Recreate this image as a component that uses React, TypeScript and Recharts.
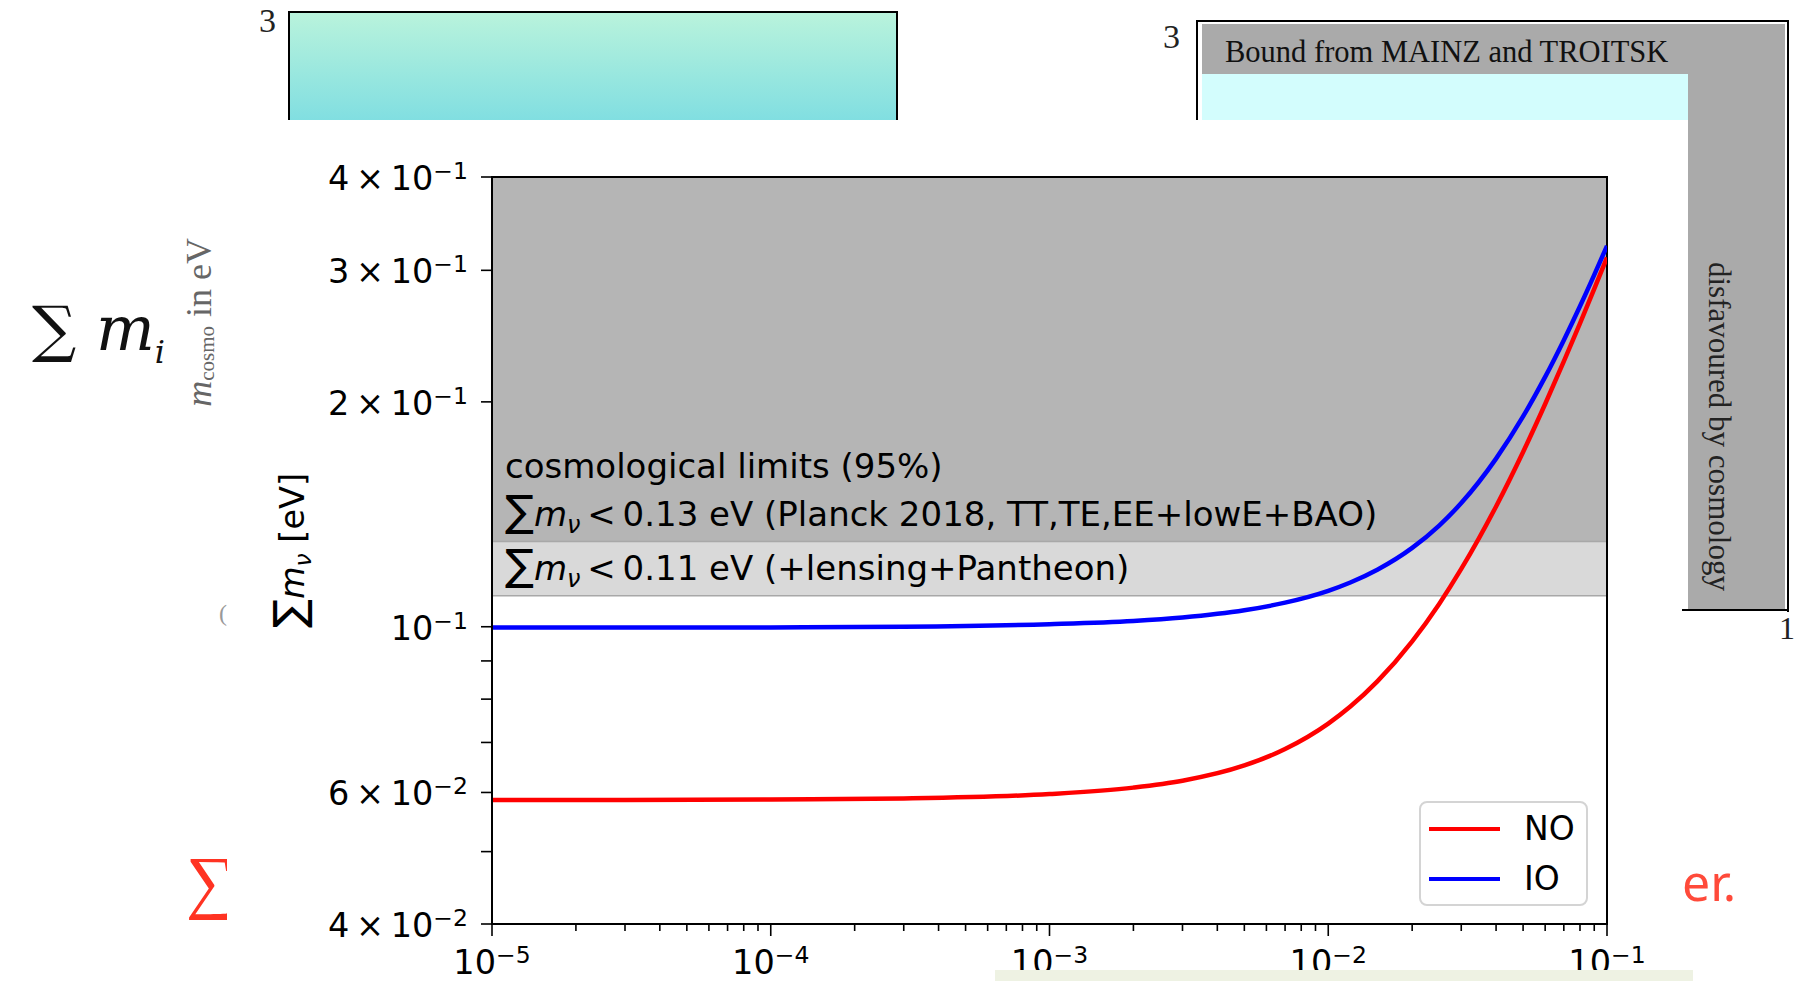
import React from 'react';
import { LineChart, Line, XAxis, YAxis, ReferenceArea, Legend } from 'recharts';

// lightest neutrino mass m_0 [eV]
const lightestMass = [1e-5, 3e-5, 1e-4, 3e-4, 1e-3, 2e-3, 3e-3, 5e-3, 7e-3, 1e-2, 1.2e-2, 1.5e-2, 2e-2, 2.5e-2, 3e-2, 4e-2, 5e-2, 6e-2, 7e-2, 8e-2, 9e-2, 1e-1];
// sum of neutrino masses [eV], normal ordering
const sumNormal = [0.0586, 0.0586, 0.0587, 0.0589, 0.0597, 0.0609, 0.0622, 0.0652, 0.0686, 0.0742, 0.0782, 0.0845, 0.0956, 0.1073, 0.1195, 0.1449, 0.1714, 0.1987, 0.2266, 0.2548, 0.2834, 0.3122];
// sum of neutrino masses [eV], inverted ordering
const sumInverted = [0.0998, 0.0998, 0.0998, 0.1000, 0.1008, 0.1018, 0.1029, 0.1052, 0.1077, 0.1117, 0.1146, 0.1192, 0.1275, 0.1366, 0.1464, 0.1679, 0.1912, 0.2160, 0.2419, 0.2685, 0.2958, 0.3235];

// cosmological upper limits [eV]
const planckLimit = 0.13;
const lensingLimit = 0.11;

const xDomain = [1e-5, 1e-1];
const yDomain = [0.04, 0.4];

const xMajorTicks = [1e-5, 1e-4, 1e-3, 1e-2, 1e-1];
const xMajorLabels = ['10^−5', '10^−4', '10^−3', '10^−2', '10^−1'];
const xMinorTicks = [
  2e-5, 3e-5, 4e-5, 5e-5, 6e-5, 7e-5, 8e-5, 9e-5,
  2e-4, 3e-4, 4e-4, 5e-4, 6e-4, 7e-4, 8e-4, 9e-4,
  2e-3, 3e-3, 4e-3, 5e-3, 6e-3, 7e-3, 8e-3, 9e-3,
  2e-2, 3e-2, 4e-2, 5e-2, 6e-2, 7e-2, 8e-2, 9e-2,
];

const yTicks = [0.04, 0.05, 0.06, 0.07, 0.08, 0.09, 0.1, 0.2, 0.3, 0.4];
const yTickLabels = ['4\u2009×\u200910^−2', '', '6\u2009×\u200910^−2', '', '', '', '10^−1', '2\u2009×\u200910^−1', '3\u2009×\u200910^−1', '4\u2009×\u200910^−1'];

const seriesNames = ['NO', 'IO'];
const seriesColors = ['#ff0000', '#0000ff'];

const FONT = 'DejaVu Sans';

const chartData = lightestMass.map((m, i) => ({ m, no: sumNormal[i], io: sumInverted[i] }));

function PowerLabel({ x, y, text, anchor }: { x: number; y: number; text: string; anchor: 'end' | 'middle' }) {
  const [base, exp] = text.split('^');
  return (
    <text x={x} y={y} textAnchor={anchor} fontFamily={FONT} fontSize={33.5} fill="#000">
      {base}
      <tspan dy={-11} fontSize={23.5}>{exp}</tspan>
    </text>
  );
}

function XTick({ x, y, payload }: any) {
  const idx = xMajorTicks.indexOf(payload.value);
  const major = idx >= 0;
  return (
    <g>
      <line x1={x} x2={x} y1={y} y2={y + (major ? 12 : 7)} stroke="#000" strokeWidth={1.6} />
      {major && <PowerLabel x={x} y={y + 50} text={xMajorLabels[idx]} anchor="middle" />}
    </g>
  );
}

function YTick({ x, y, payload }: any) {
  const label = yTickLabels[yTicks.indexOf(payload.value)] || '';
  return (
    <g>
      <line x1={x - 11} x2={x} y1={y} y2={y} stroke="#000" strokeWidth={1.6} />
      {label && <PowerLabel x={x - 24} y={y + 13} text={label} anchor="end" />}
    </g>
  );
}

function YTitle({ viewBox }: any) {
  const cx = viewBox.x + viewBox.width - 200;
  const cy = viewBox.y + viewBox.height / 2;
  return (
    <text
      x={cx}
      y={cy + 12}
      transform={`rotate(-90 ${cx} ${cy})`}
      textAnchor="middle"
      fontFamily={FONT}
      fontSize={33.5}
      fill="#000"
    >
      <tspan fontSize={43}>∑</tspan>
      <tspan fontStyle="italic">m</tspan>
      <tspan fontStyle="italic" fontSize={23.5} dy={7}>ν</tspan>
      <tspan dy={-7}> [eV]</tspan>
    </text>
  );
}

function SumLine({ x, y, bound, note }: { x: number; y: number; bound: number; note: string }) {
  return (
    <text x={x} y={y} fontFamily={FONT} fontSize={34} fill="#000">
      <tspan fontSize={43}>∑</tspan>
      <tspan fontStyle="italic">m</tspan>
      <tspan fontStyle="italic" fontSize={24} dy={7}>ν</tspan>
      <tspan dy={-7}>{`\u2009<\u2009${bound} eV ${note}`}</tspan>
    </text>
  );
}

function LimitNotes({ viewBox }: any) {
  const left = viewBox.x + 13;
  const mid = viewBox.y + viewBox.height / 2;
  return (
    <g>
      <text x={left} y={mid - 91} fontFamily={FONT} fontSize={34} fill="#000">
        cosmological limits (95%)
      </text>
      <SumLine x={left} y={mid - 43} bound={planckLimit} note="(Planck 2018, TT,TE,EE+lowE+BAO)" />
      <SumLine x={left} y={mid + 11} bound={lensingLimit} note="(+lensing+Pantheon)" />
    </g>
  );
}

function LegendBox({ payload }: any) {
  const items = [...(payload || [])].sort(
    (a: any, b: any) => seriesNames.indexOf(a.value) - seriesNames.indexOf(b.value),
  );
  return (
    <div
      style={{
        width: 169,
        height: 105,
        boxSizing: 'border-box',
        border: '2px solid #d4d4d4',
        borderRadius: 8,
        background: 'rgba(255,255,255,0.85)',
        fontFamily: FONT,
        fontSize: 33,
        position: 'relative',
      }}
    >
      {items.map((p: any, i: number) => (
        <div key={p.value} style={{ position: 'absolute', left: 0, top: 4 + i * 50, height: 44, display: 'flex', alignItems: 'center' }}>
          <div style={{ marginLeft: 8, width: 71, height: 4, background: p.color }} />
          <span style={{ marginLeft: 24, lineHeight: '44px' }}>{p.value}</span>
        </div>
      ))}
    </div>
  );
}

// pieces of the slide that sit behind the figure
function SlideBackdrop() {
  const serif = 'Liberation Serif';
  return (
    <>
      <div style={{ position: 'absolute', left: 288, top: 11, width: 606, height: 109, borderTop: '2px solid #000', borderLeft: '2px solid #000', borderRight: '2px solid #000', background: 'linear-gradient(#b9f3dc, #80dee1)' }} />
      <div style={{ position: 'absolute', left: 259, top: 2, fontFamily: serif, fontSize: 34, color: '#222' }}>3</div>

      <div style={{ position: 'absolute', left: 1196, top: 20, width: 589, height: 590, borderTop: '2px solid #000', borderLeft: '2px solid #000', borderRight: '2px solid #000' }} />
      <div style={{ position: 'absolute', left: 1202, top: 24, width: 583, height: 50, background: '#aaaaaa' }} />
      <div style={{ position: 'absolute', left: 1202, top: 74, width: 486, height: 46, background: '#d3fdfd' }} />
      <div style={{ position: 'absolute', left: 1688, top: 24, width: 97, height: 586, background: '#aaaaaa' }} />
      <div style={{ position: 'absolute', left: 1682, top: 609, width: 105, height: 2, background: '#000' }} />
      <div style={{ position: 'absolute', left: 1225, top: 35, fontFamily: serif, fontSize: 30.5, color: '#111', whiteSpace: 'nowrap' }}>
        Bound from MAINZ and TROITSK
      </div>
      <div style={{ position: 'absolute', left: 1701, top: 262, writingMode: 'vertical-rl', fontFamily: serif, fontSize: 31, color: '#222', whiteSpace: 'nowrap' }}>
        disfavoured by cosmology
      </div>
      <div style={{ position: 'absolute', left: 1163, top: 18, fontFamily: serif, fontSize: 34, color: '#222' }}>3</div>
      <div style={{ position: 'absolute', left: 1779, top: 610, fontFamily: serif, fontSize: 32, color: '#222' }}>1</div>

      <div style={{ position: 'absolute', left: 32, top: 292, fontFamily: 'DejaVu Serif', fontSize: 62, color: '#111', whiteSpace: 'nowrap', lineHeight: 1.2 }}>
        ∑ <i>m</i><sub style={{ fontSize: 32, fontStyle: 'italic' }}>i</sub>
      </div>
      <div style={{ position: 'absolute', left: 178, top: 238, writingMode: 'vertical-rl', transform: 'rotate(180deg)', fontFamily: serif, fontSize: 36, color: '#666', whiteSpace: 'nowrap' }}>
        <i>m</i><sub style={{ fontSize: 21 }}>cosmo</sub> in eV
      </div>
      <div style={{ position: 'absolute', left: 219, top: 600, fontFamily: serif, fontSize: 24, color: '#999' }}>(</div>
      <div style={{ position: 'absolute', left: 186, top: 843, fontFamily: 'Noto Sans', fontSize: 70, color: '#ff3322', lineHeight: 1 }}>∑</div>
    </>
  );
}

export default function App() {
  return (
    <div style={{ position: 'absolute', left: 0, top: 0, width: 1794, height: 981, overflow: 'hidden', background: '#fff' }}>
      <SlideBackdrop />
      <div style={{ position: 'absolute', left: 227, top: 120, width: 1455, height: 861, background: '#fff' }} />

      <div style={{ position: 'absolute', left: 0, top: 0 }}>
        <LineChart width={1794} height={981} data={chartData} margin={{ top: 177, right: 187, bottom: 7, left: 342 }}>
          <XAxis
            dataKey="m"
            type="number"
            scale="log"
            domain={xDomain}
            allowDataOverflow
            ticks={[...xMajorTicks, ...xMinorTicks]}
            interval={0}
            tick={<XTick />}
            tickLine={false}
            tickSize={0}
            tickMargin={0}
            height={50}
            axisLine={{ stroke: '#000', strokeWidth: 2 }}
          />
          <YAxis
            type="number"
            scale="log"
            domain={yDomain}
            allowDataOverflow
            ticks={yTicks}
            interval={0}
            tick={<YTick />}
            tickLine={false}
            tickSize={0}
            tickMargin={0}
            width={150}
            axisLine={{ stroke: '#000', strokeWidth: 2 }}
            label={YTitle}
          />
          <ReferenceArea y1={planckLimit} y2={yDomain[1]} fill="#b5b5b5" fillOpacity={1} stroke="none" />
          <ReferenceArea
            y1={lensingLimit}
            y2={planckLimit}
            fill="#d9d9d9"
            fillOpacity={1}
            stroke="#a8a8a8"
            strokeWidth={1.5}
            label={LimitNotes}
          />
          <Line type="monotone" dataKey="no" name={seriesNames[0]} stroke={seriesColors[0]} strokeWidth={4.5} dot={false} isAnimationActive={false} />
          <Line type="monotone" dataKey="io" name={seriesNames[1]} stroke={seriesColors[1]} strokeWidth={4.5} dot={false} isAnimationActive={false} />
          <ReferenceArea x1={xDomain[0]} x2={xDomain[1]} y1={yDomain[0]} y2={yDomain[1]} fill="none" stroke="#000" strokeWidth={2} />
          <Legend
            layout="horizontal"
            verticalAlign="middle"
            align="center"
            content={LegendBox}
            wrapperStyle={{ left: 1419, top: 801, width: 169, height: 105 }}
          />
        </LineChart>
      </div>

      <div style={{ position: 'absolute', left: 995, top: 970, width: 698, height: 11, background: '#eef2e3' }} />
      <div style={{ position: 'absolute', left: 1682, top: 848, fontFamily: 'Noto Sans', fontSize: 50, color: '#ff4a3a', whiteSpace: 'nowrap' }}>er.</div>
    </div>
  );
}
